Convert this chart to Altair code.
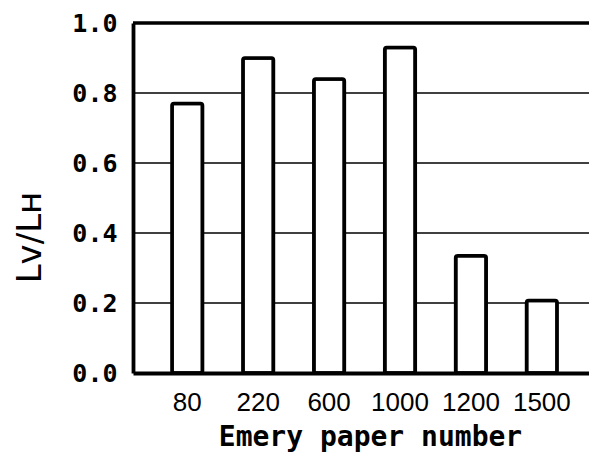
import altair as alt
import pandas as pd

papers = ["80", "220", "600", "1000", "1200", "1500"]
ratios = [0.77, 0.90, 0.84, 0.93, 0.335, 0.207]
y_ticks = [0.0, 0.2, 0.4, 0.6, 0.8, 1.0]

df = pd.DataFrame({"paper": papers, "ratio": ratios})

xs = alt.Scale(domain=papers, paddingInner=0.57, paddingOuter=0.5, align=0.55)
ys = alt.Scale(domain=[0, 1.0], nice=False)

grid = alt.Chart(pd.DataFrame({"g": [0.2, 0.4, 0.6, 0.8]})).mark_rule(
    color="black", strokeWidth=1.7
).encode(y=alt.Y("g:Q", scale=ys))

top = alt.Chart(pd.DataFrame({"g": [1.0]})).mark_rule(
    color="black", strokeWidth=3.5
).encode(y=alt.Y("g:Q", scale=ys))

bars = alt.Chart(df).mark_bar(
    fill="white", stroke="black", strokeWidth=3.6, cornerRadius=2
).encode(
    x=alt.X("paper:N", scale=xs, sort=papers,
            axis=alt.Axis(title="Emery paper number", labelAngle=0, ticks=False,
                          domainWidth=3.8, domainColor="black",
                          labelFont="Liberation Sans", labelFontSize=26,
                          labelColor="black", labelPadding=16,
                          titleFont="DejaVu Sans Mono", titleFontWeight="bold",
                          titleFontSize=28, titleColor="black", titlePadding=8,
                          titleX=237)),
    y=alt.Y("ratio:Q", scale=ys,
            axis=alt.Axis(title="Lᴠ/Lʜ", values=y_ticks, format=".1f", ticks=False,
                          grid=False, domainWidth=3.8, domainColor="black",
                          labelFont="DejaVu Sans Mono", labelFontWeight="bold",
                          labelFontSize=25, labelColor="black", labelPadding=16,
                          titleFont="DejaVu Sans", titleFontWeight="normal",
                          titleFontSize=34, titleColor="black", titlePadding=24,
                          titleY=214)),
)

chart = alt.layer(grid, top, bars).properties(
    width=456, height=350,
    autosize=alt.AutoSizeParams(type="none"),
    padding={"left": 125, "top": 15, "right": 0, "bottom": 83},
).configure_view(stroke=None)

chart.save("out.html", embed_options={"renderer": "svg", "actions": False})
